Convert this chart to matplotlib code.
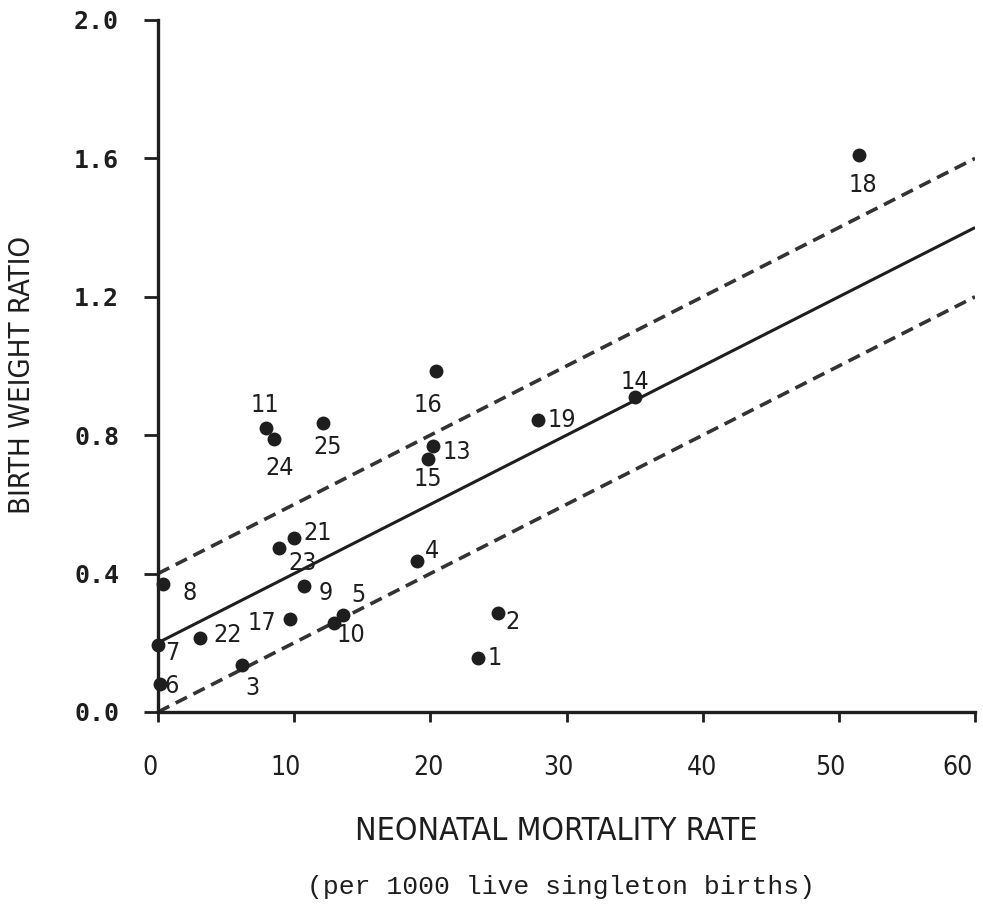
import matplotlib
matplotlib.use('Agg')
import matplotlib.pyplot as plt
from matplotlib.transforms import ScaledTranslation

# country number, neonatal mortality rate, birth weight ratio
ids = [1, 2, 3, 4, 5, 6, 7, 8, 9, 10, 11, 13, 14, 15, 16, 17, 18, 19,
       21, 22, 23, 24, 25]
nmr = [23.5, 25.0, 6.2, 19.0, 13.6, 0.15, 0.0, 0.4, 10.7, 12.9, 7.9, 20.2,
       35.0, 19.8, 20.4, 9.7, 51.5, 27.9, 10.0, 3.1, 8.9, 8.5, 12.1]
bwr = [0.155, 0.285, 0.135, 0.435, 0.28, 0.08, 0.195, 0.37, 0.365, 0.257,
       0.82, 0.77, 0.91, 0.73, 0.985, 0.27, 1.61, 0.845, 0.503, 0.214,
       0.474, 0.79, 0.835]

# regression line and its band
line_x = [0, 60]
fit_y = [0.2, 1.4]
upper_y = [0.4, 1.6]
lower_y = [0.0, 1.2]

xticks = [0, 10, 20, 30, 40, 50, 60]
yticks = [0.0, 0.4, 0.8, 1.2, 1.6, 2.0]

# label offsets (pixels) for each numbered point
offsets = {1: (17, 0), 2: (14, -9), 3: (10, -23), 4: (15, 10), 5: (15, 20),
           6: (12, -2), 7: (14, -8), 8: (26, -9), 9: (22, -7), 10: (17, -12),
           11: (-1, 23), 13: (24, -6), 14: (0, 15), 15: (0, -20),
           16: (-8, -34), 17: (-28, -4), 18: (4, -30), 19: (24, 0),
           21: (24, 5), 22: (27, 3), 23: (23, -15), 24: (6, -29),
           25: (5, -24)}
# typed x labels sit a little left of their ticks
xlabel_shift = [-8, -9, -2, -8, -1, -9, -17]

ink = '#1e1e1e'

fig = plt.figure(figsize=(9.83, 9.07), dpi=100)
ax = fig.add_axes([0.1607, 0.215, 0.8312, 0.763])

ax.plot(line_x, fit_y, color=ink, lw=2.2, solid_capstyle='butt')
ax.plot(line_x, upper_y, color='#333333', lw=2.6, dashes=(3.5, 2.0))
ax.plot(line_x, lower_y, color='#333333', lw=2.6, dashes=(3.5, 2.0))

ax.scatter(nmr, bwr, s=100, color=ink, zorder=3, clip_on=False, linewidths=0)

for i, x, y in zip(ids, nmr, bwr):
    dx, dy = offsets[i]
    ax.annotate(str(i), (x, y), xytext=(dx, dy), textcoords='offset pixels',
                ha='center', va='center', fontsize=18, color=ink,
                fontstretch='condensed')

ax.set_xlim(0, 60)
ax.set_ylim(0, 2.0)

for s in ['top', 'right']:
    ax.spines[s].set_visible(False)
for s in ['left', 'bottom']:
    ax.spines[s].set_linewidth(2.4)
    ax.spines[s].set_color(ink)

ax.set_xticks(xticks)
ax.set_xticklabels([str(v) for v in xticks], fontsize=19, color=ink,
                   fontstretch='condensed')
ax.set_yticks(yticks)
ax.set_yticklabels([f"{v:.1f}" for v in yticks], fontsize=18, color=ink,
                   family='DejaVu Sans Mono', weight='bold')
ax.tick_params(axis='x', direction='out', length=7, width=2.0, pad=24,
               colors=ink)
ax.tick_params(axis='y', direction='out', length=10, width=2.0, pad=18,
               colors=ink)

for lab, sh in zip(ax.get_xticklabels(), xlabel_shift):
    lab.set_transform(lab.get_transform() +
                      ScaledTranslation(sh / 100, 0, fig.dpi_scale_trans))

fig.text(0.022, 0.587, 'BIRTH WEIGHT RATIO', rotation=90, ha='center',
         va='center', fontsize=21, color=ink, fontstretch='condensed')
fig.text(0.566, 0.083, 'NEONATAL MORTALITY RATE', ha='center', va='center',
         fontsize=23, color=ink, fontstretch='condensed')
fig.text(0.571, 0.022, '(per 1000 live singleton births)', ha='center',
         va='center', fontsize=19, color=ink, family='Liberation Mono')

fig.savefig('out.png', dpi=100)
